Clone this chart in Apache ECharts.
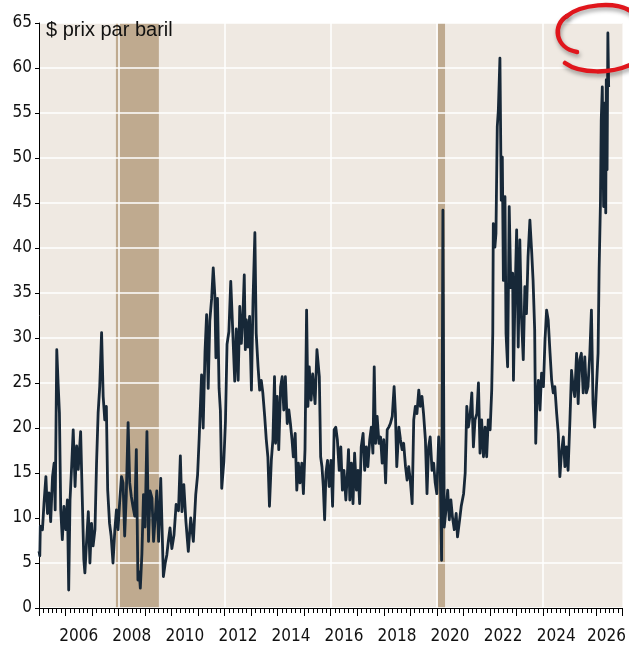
<!DOCTYPE html>
<html>
<head>
<meta charset="utf-8">
<script src="https://cdn.jsdelivr.net/npm/echarts@6/dist/echarts.min.js"></script>
<style>
  html, body { margin: 0; padding: 0; background: #ffffff; }
  #chart { width: 629px; height: 645px; }
</style>
</head>
<body>
<div id="chart"></div>
<script>
// dates in decimal years, prices in $ per barrel
const dates = [
  2005.00, 2005.03, 2005.05, 2005.13, 2005.19, 2005.26, 2005.32, 2005.38, 2005.44, 2005.51,
  2005.57, 2005.61, 2005.67, 2005.72, 2005.77, 2005.82, 2005.88, 2005.94, 2006.01, 2006.07,
  2006.12, 2006.17, 2006.23, 2006.29, 2006.36, 2006.42, 2006.48, 2006.57, 2006.63, 2006.69,
  2006.73, 2006.79, 2006.86, 2006.92, 2006.98, 2007.04, 2007.11, 2007.17, 2007.23, 2007.29,
  2007.36, 2007.42, 2007.48, 2007.54, 2007.59, 2007.66, 2007.72, 2007.79, 2007.86, 2007.92,
  2007.98, 2008.04, 2008.11, 2008.17, 2008.23, 2008.29, 2008.36, 2008.42, 2008.48, 2008.54,
  2008.61, 2008.67, 2008.73, 2008.78, 2008.82, 2008.88, 2008.94, 2009.00, 2009.07, 2009.13,
  2009.19, 2009.26, 2009.32, 2009.38, 2009.44, 2009.51, 2009.59, 2009.69, 2009.76, 2009.82,
  2009.88, 2009.94, 2010.01, 2010.09, 2010.17, 2010.26, 2010.33, 2010.39, 2010.46, 2010.54,
  2010.63, 2010.72, 2010.82, 2010.91, 2010.98, 2011.04, 2011.13, 2011.19, 2011.26, 2011.32,
  2011.38, 2011.44, 2011.51, 2011.57, 2011.63, 2011.67, 2011.73, 2011.79, 2011.84, 2011.89,
  2011.97, 2012.03, 2012.09, 2012.16, 2012.23, 2012.29, 2012.38, 2012.44, 2012.51, 2012.57,
  2012.63, 2012.69, 2012.74, 2012.78, 2012.82, 2012.88, 2012.94, 2013.01, 2013.07, 2013.14,
  2013.19, 2013.26, 2013.32, 2013.38, 2013.44, 2013.51, 2013.57, 2013.63, 2013.69, 2013.76,
  2013.82, 2013.88, 2013.92, 2013.98, 2014.04, 2014.11, 2014.17, 2014.23, 2014.29, 2014.36,
  2014.42, 2014.48, 2014.54, 2014.59, 2014.66, 2014.72, 2014.78, 2014.84, 2014.91, 2014.97,
  2015.03, 2015.09, 2015.14, 2015.19, 2015.26, 2015.32, 2015.41, 2015.48, 2015.57, 2015.62,
  2015.67, 2015.72, 2015.77, 2015.82, 2015.88, 2015.94, 2016.01, 2016.07, 2016.13, 2016.19,
  2016.25, 2016.32, 2016.38, 2016.44, 2016.50, 2016.57, 2016.63, 2016.67, 2016.72, 2016.78,
  2016.84, 2016.90, 2016.97, 2017.03, 2017.09, 2017.15, 2017.22, 2017.28, 2017.34, 2017.40,
  2017.47, 2017.53, 2017.59, 2017.64, 2017.69, 2017.75, 2017.82, 2017.88, 2017.94, 2018.00,
  2018.07, 2018.13, 2018.19, 2018.25, 2018.32, 2018.39, 2018.44, 2018.49, 2018.57, 2018.63,
  2018.69, 2018.75, 2018.82, 2018.88, 2018.94, 2019.00, 2019.07, 2019.13, 2019.19, 2019.25,
  2019.32, 2019.38, 2019.44, 2019.50, 2019.57, 2019.63, 2019.69, 2019.75, 2019.82, 2019.88,
  2019.94, 2020.00, 2020.07, 2020.13, 2020.18, 2020.23, 2020.28, 2020.36, 2020.41, 2020.47,
  2020.53, 2020.59, 2020.66, 2020.73, 2020.78, 2020.86, 2020.92, 2021.01, 2021.07, 2021.13,
  2021.19, 2021.26, 2021.32, 2021.38, 2021.44, 2021.51, 2021.57, 2021.63, 2021.69, 2021.76,
  2021.82, 2021.88, 2021.94, 2022.01, 2022.07, 2022.11, 2022.13, 2022.19, 2022.23, 2022.28,
  2022.32, 2022.38, 2022.43, 2022.47, 2022.51, 2022.57, 2022.61, 2022.67, 2022.73, 2022.79,
  2022.86, 2022.89, 2022.94, 2023.01, 2023.07, 2023.13, 2023.19, 2023.26, 2023.32, 2023.38,
  2023.44, 2023.51, 2023.58, 2023.63, 2023.69, 2023.73, 2023.77, 2023.83, 2023.89, 2023.95,
  2024.02, 2024.08, 2024.14, 2024.20, 2024.27, 2024.33, 2024.39, 2024.45, 2024.52, 2024.58,
  2024.64, 2024.70, 2024.77, 2024.83, 2024.89, 2024.95, 2025.02, 2025.08, 2025.14, 2025.20,
  2025.27, 2025.33, 2025.39, 2025.45, 2025.52, 2025.58, 2025.64, 2025.70, 2025.77, 2025.83,
  2025.89, 2025.95, 2026.02, 2026.08, 2026.12, 2026.17, 2026.20, 2026.24, 2026.29, 2026.33,
  2026.37, 2026.39, 2026.42, 2026.45, 2026.48
];
const prices = [
  6.3, 5.8, 9.1, 8.7, 11.7, 14.6, 10.5, 12.8, 9.6, 14.6,
  16.1, 10.9, 28.7, 25.0, 21.7, 10.9, 7.6, 11.3, 8.7, 12.0,
  2.0, 12.0, 15.7, 19.8, 13.5, 18.0, 15.4, 19.6, 12.4, 5.4,
  3.9, 7.2, 10.7, 5.0, 9.4, 6.9, 8.7, 16.1, 21.7, 24.6,
  30.6, 23.5, 20.9, 22.4, 13.1, 9.4, 8.0, 5.0, 8.7, 10.9,
  8.7, 11.7, 14.6, 13.9, 8.0, 12.4, 20.6, 13.9, 12.4, 11.3,
  10.2, 17.6, 3.1, 4.0, 2.2, 6.0, 12.6, 9.0, 19.6, 7.4,
  13.0, 12.2, 7.4, 10.0, 13.0, 7.4, 14.4, 3.5, 5.0, 5.9,
  7.5, 8.9, 6.6, 8.1, 11.5, 10.8, 16.9, 10.7, 13.7, 9.6,
  6.3, 10.0, 7.4, 12.6, 14.8, 18.9, 25.9, 20.0, 28.5, 32.6,
  24.4, 31.9, 34.4, 37.8, 34.8, 27.8, 34.4, 24.4, 21.9, 13.3,
  16.3, 20.7, 29.3, 30.7, 36.3, 31.9, 25.2, 31.0, 25.3, 33.5,
  29.4, 32.7, 37.0, 28.7, 32.0, 29.0, 32.4, 24.2, 34.2, 41.7,
  30.5, 26.8, 24.2, 25.3, 23.9, 21.3, 18.7, 16.8, 11.3, 16.4,
  18.7, 25.7, 18.3, 23.5, 17.6, 24.6, 25.7, 22.0, 25.7, 20.5,
  22.0, 20.5, 18.7, 16.8, 19.4, 13.1, 16.1, 13.9, 16.1, 12.7,
  17.6, 33.1, 22.4, 26.8, 23.1, 26.0, 22.7, 28.7, 25.7, 16.8,
  15.7, 13.5, 9.8, 15.0, 16.4, 13.5, 16.4, 11.3, 19.8, 20.1,
  18.7, 15.3, 17.9, 13.1, 15.3, 12.0, 15.0, 17.6, 12.0, 16.1,
  11.6, 17.2, 13.1, 15.3, 11.6, 17.9, 19.4, 15.3, 17.9, 15.7,
  18.7, 20.1, 17.2, 26.8, 18.3, 21.3, 18.3, 19.0, 16.1, 18.7,
  13.9, 19.8, 20.1, 20.5, 21.3, 24.6, 21.6, 15.7, 20.1, 18.7,
  17.6, 18.3, 15.7, 14.2, 15.7, 14.2, 11.6, 20.9, 22.4, 21.6,
  24.2, 22.4, 23.5, 21.6, 18.7, 12.7, 17.9, 19.0, 15.3, 16.1,
  13.9, 12.7, 19.0, 15.3, 5.3, 44.2, 9.0, 11.3, 13.1, 9.8,
  12.0, 10.1, 8.7, 10.5, 7.9, 9.8, 11.3, 12.7, 15.0, 22.4,
  20.1, 21.6, 23.9, 17.9, 20.9, 21.6, 25.0, 17.2, 20.9, 16.8,
  20.1, 16.8, 20.9, 19.8, 24.2, 30.5, 42.7, 40.1, 41.6, 53.5,
  55.3, 61.1, 45.3, 50.1, 36.4, 45.7, 30.5, 26.8, 44.6, 35.6,
  37.2, 25.3, 33.5, 42.0, 29.0, 40.9, 32.4, 27.6, 35.7, 32.7,
  39.0, 43.1, 39.4, 36.4, 30.9, 18.3, 22.7, 25.3, 22.0, 26.1,
  24.6, 29.8, 33.1, 32.0, 28.3, 25.3, 23.9, 24.6, 21.6, 19.4,
  14.6, 17.2, 19.0, 15.7, 17.9, 15.3, 20.9, 26.4, 24.6, 23.5,
  28.3, 22.7, 27.6, 28.3, 23.9, 27.9, 23.9, 24.6, 28.3, 33.1,
  22.7, 20.1, 24.6, 28.3, 37.6, 45.0, 54.2, 57.9, 44.6, 56.1,
  43.9, 58.7, 48.7, 63.9, 57.9
];
// recession periods (start, end)
const recessions = [[2007.9, 2009.52], [2020.04, 2020.31]];
// year labels, placed mid-year
const yearLabels = [2006, 2008, 2010, 2012, 2014, 2016, 2018, 2020, 2022, 2024, 2026];

const labelFont = "'DejaVu Sans Condensed', 'Liberation Sans', sans-serif";

const chart = echarts.init(document.getElementById('chart'));
var option = {
  animation: false,
  title: {
    text: '$ prix par baril',
    left: 46,
    top: 20,
    padding: 0,
    textStyle: {
      fontFamily: "'Liberation Sans', Arial, sans-serif",
      fontSize: 20,
      fontWeight: 'normal',
      color: '#111111',
    },
  },
  grid: {
    left: 39,
    right: 3,
    top: 23,
    bottom: 37,
    show: true,
    backgroundColor: '#EFE9E2',
    borderWidth: 0,
  },
  xAxis: {
    type: 'value',
    min: 2005,
    max: 2027,
    interval: 1,
    z: 3,
    axisLine: { show: true, onZero: false, lineStyle: { color: '#000000', width: 1 } },
    axisTick: { show: true, length: 8, lineStyle: { color: '#000000' } },
    minorTick: { show: true, splitNumber: 6, length: 5, lineStyle: { color: '#000000' } },
    axisLabel: {
      customValues: yearLabels.map((y) => (y === 2026 ? y + 0.4 : y + 0.5)),
      formatter: (v) => String(Math.floor(v)),
      margin: 20,
      fontFamily: labelFont,
      fontSize: 17,
      color: '#111111',
    },
    splitLine: {
      show: true,
      showMinLine: true,
      // one white line every 4 years (2008, 2012, ...)
      lineStyle: {
        color: ['rgba(0,0,0,0)', 'rgba(0,0,0,0)', 'rgba(0,0,0,0)', '#ffffff'],
        width: 1.5,
      },
    },
  },
  yAxis: {
    type: 'value',
    min: 0,
    max: 65,
    interval: 5,
    z: 3,
    axisLine: { show: true, lineStyle: { color: '#000000', width: 1 } },
    axisTick: { show: true, length: 4, lineStyle: { color: '#000000' } },
    axisLabel: {
      margin: 7,
      fontFamily: labelFont,
      fontSize: 17,
      color: '#111111',
    },
    splitLine: { show: true, lineStyle: { color: '#ffffff', width: 1.5 } },
  },
  series: [
    {
      name: 'récessions',
      type: 'line',
      z: 1,
      silent: true,
      data: [],
      markArea: {
        silent: true,
        itemStyle: { color: '#BFAA8F', opacity: 1 },
        data: recessions.map((r) => [{ xAxis: r[0] }, { xAxis: r[1] }]),
      },
    },
    {
      name: 'prix',
      type: 'line',
      z: 5,
      showSymbol: false,
      symbol: 'none',
      lineStyle: { color: '#172838', width: 2.8, join: 'round' },
      data: dates.map((d, i) => [d, prices[i]]),
    },
  ],
  graphic: [
    // red hand-drawn circle, top right
    {
      type: 'bezierCurve',
      z: 10,
      shape: { x1: 577, y1: 52, cpx1: 555, cpy1: 48, cpx2: 552, cpy2: 25, x2: 567, y2: 16 },
      style: { stroke: '#E0161C', lineWidth: 4.5, fill: null, lineCap: 'round',
        shadowBlur: 4, shadowColor: 'rgba(0,0,0,0.35)', shadowOffsetX: 1, shadowOffsetY: 3 },
    },
    {
      type: 'bezierCurve',
      z: 10,
      shape: { x1: 567, y1: 16, cpx1: 580, cpy1: 5, cpx2: 615, cpy2: 0, x2: 632, y2: 12 },
      style: { stroke: '#E0161C', lineWidth: 4.5, fill: null, lineCap: 'round',
        shadowBlur: 4, shadowColor: 'rgba(0,0,0,0.35)', shadowOffsetX: 1, shadowOffsetY: 3 },
    },
    {
      type: 'bezierCurve',
      z: 10,
      shape: { x1: 565, y1: 63, cpx1: 580, cpy1: 74, cpx2: 612, cpy2: 74, x2: 632, y2: 64 },
      style: { stroke: '#E0161C', lineWidth: 4.5, fill: null, lineCap: 'round',
        shadowBlur: 4, shadowColor: 'rgba(0,0,0,0.35)', shadowOffsetX: 1, shadowOffsetY: 3 },
    },
  ],
};
chart.setOption(option);
</script>
</body>
</html>
